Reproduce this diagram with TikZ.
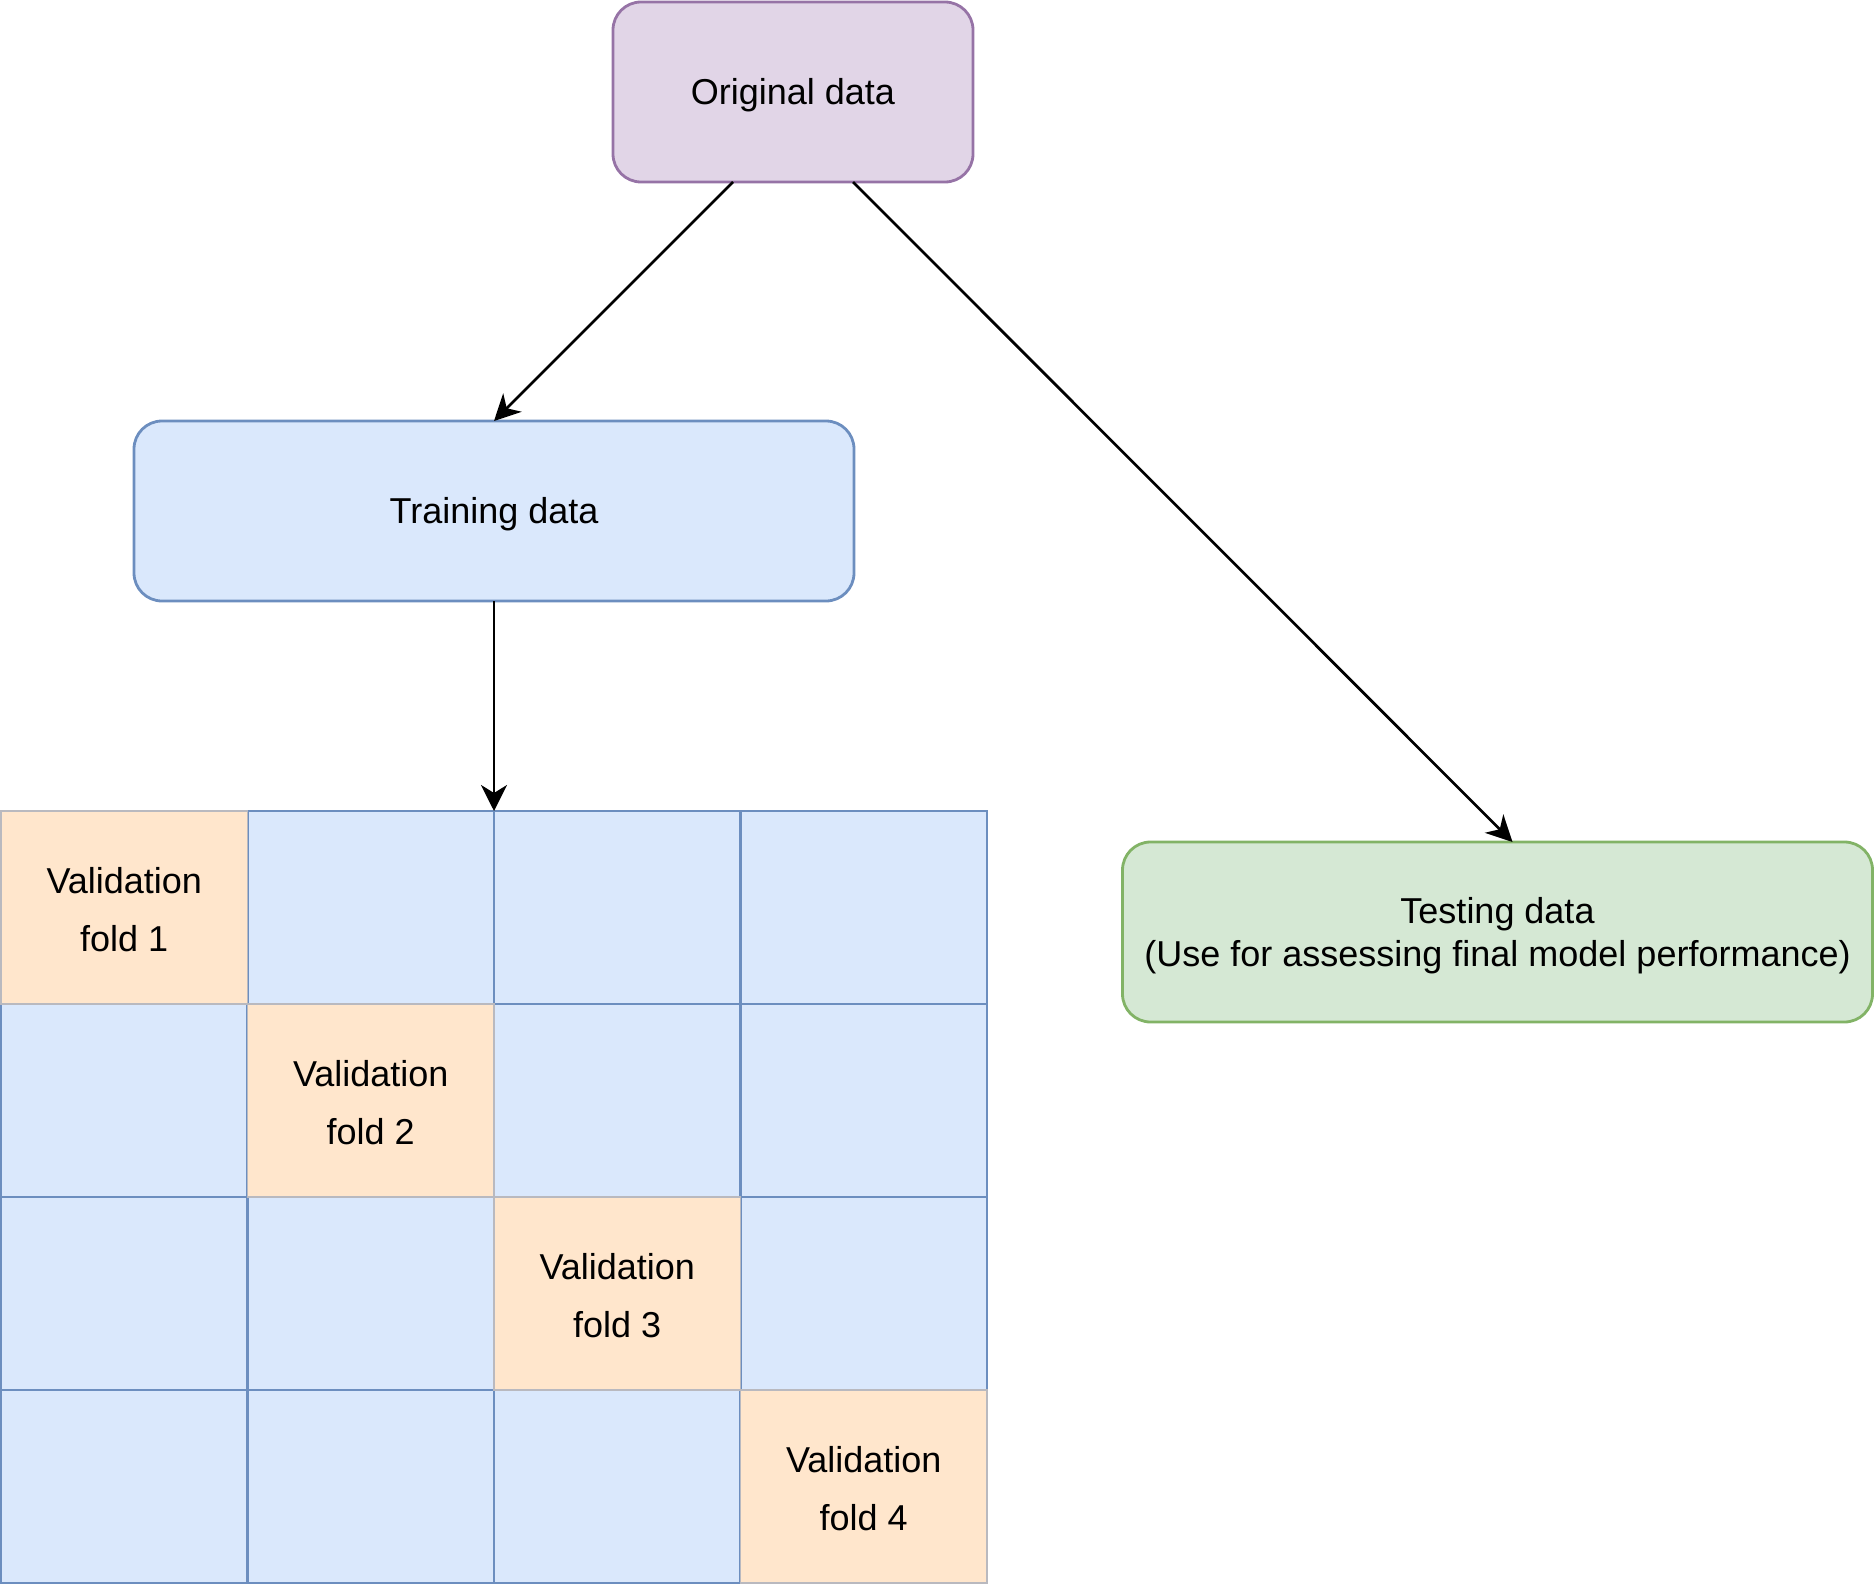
\documentclass[tikz,border=0pt]{standalone}
\usepackage{fontspec}
\setmainfont{Liberation Sans}
\usetikzlibrary{arrows.meta,calc}

\definecolor{purplefill}{HTML}{E1D5E7}
\definecolor{purpleline}{HTML}{9673A6}
\definecolor{bluefill}{HTML}{DAE8FC}
\definecolor{blueline}{HTML}{6C8EBF}
\definecolor{greenfill}{HTML}{D5E8D4}
\definecolor{greenline}{HTML}{82B366}
\definecolor{orangefill}{HTML}{FFE6CC}
\definecolor{orangeline}{HTML}{B9B9BF}

\tikzset{
  databox/.style={rectangle, rounded corners=14pt, line width=1.4pt,
    minimum height=90pt, inner sep=0pt, outer sep=0pt, align=center,
    font=\fontsize{18}{21.5}\selectfont},
  onerow/.style={text height=12.9pt, text depth=0pt},
  tworow/.style={text height=34.4pt, text depth=0pt},
  gridcell/.style={rectangle, draw=blueline, fill=bluefill, line width=1.3pt,
    minimum width=123.25pt, minimum height=96.5pt, inner sep=0pt, outer sep=0pt},
  foldcell/.style={rectangle, draw=orangeline, fill=orangefill, line width=0.9pt,
    minimum width=123.25pt, minimum height=96.5pt, inner sep=0pt, outer sep=0pt,
    align=center, font=\fontsize{18}{29}\selectfont,
    text height=44.3pt, text depth=0pt},
  flow/.style={-{Stealth[length=13pt, width=13pt, inset=4pt]}, line width=1.35pt, black},
}

\begin{document}
\begin{tikzpicture}[x=0.5pt, y=-0.5pt]
  \useasboundingbox (0,0) rectangle (1875,1584);

  % top-level boxes
  \node[databox, onerow, fill=purplefill, draw=purpleline, minimum width=180pt]
    (orig) at (793,92) {Original data};
  \node[databox, onerow, fill=bluefill, draw=blueline, minimum width=360pt]
    (train) at (494,511) {Training data};
  \node[databox, tworow, fill=greenfill, draw=greenline, minimum width=375pt]
    (test) at (1497.5,932) {Testing data\\(Use for assessing final model performance)};

  % 4x4 grid of folds: training cells first
  \foreach \r in {1,...,4}{
    \foreach \c in {1,...,4}{
      \node[gridcell] (c\r\c) at ({1+246.5*(\c-0.5)},{811+193*(\r-0.5)}) {};
    }
  }
  % validation cells on the diagonal
  \foreach \k in {1,...,4}{
    \node[foldcell] (v\k) at ({1+246.5*(\k-0.5)},{811+193*(\k-0.5)}) {Validation\\fold \k};
  }

  % connectors
  \draw[flow] ($(orig.south west)!1/3!(orig.south east)$) -- (train.north);
  \draw[flow] ($(orig.south west)!2/3!(orig.south east)$) -- ($(test.north west)!0.52!(test.north east)$);
  \draw[flow] (train.south) -- (c13.north west);
\end{tikzpicture}
\end{document}
